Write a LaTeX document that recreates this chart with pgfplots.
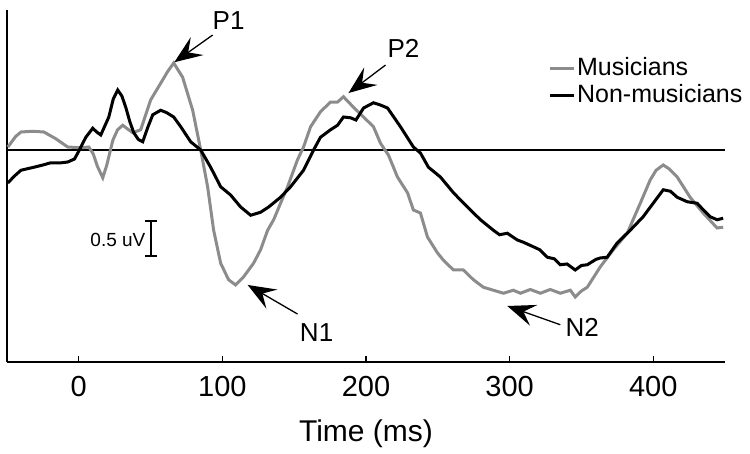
\documentclass[border=0pt]{standalone}
\usepackage{pgfplots}
\pgfplotsset{compat=1.18}
\usepackage{fontspec}
\setmainfont{Liberation Sans}
\usetikzlibrary{arrows.meta}
\definecolor{mgray}{RGB}{140,140,140}
\tikzset{ann/.style={line width=1.3bp, arrows={-Stealth[length=28bp,width=22bp,inset=11bp]}}}
\begin{document}
\begin{tikzpicture}
\begin{axis}[
  scale only axis,
  width=718bp, height=352bp,
  xmin=-50, xmax=450, ymin=-2.827, ymax=1.867,
  axis lines=left,
  axis line style={-, line width=1.5bp},
  xtick={0,100,200,300,400},
  ytick=\empty,
  tick align=inside,
  major tick length=6bp,
  tick style={line width=1.2bp, black},
  /pgf/number format/assume math mode=true,
  xticklabel style={font=\fontsize{29bp}{34bp}\selectfont, yshift=-11bp},
  xlabel={Time (ms)},
  xlabel style={font=\fontsize{30bp}{36bp}\selectfont, yshift=-16bp},
  clip=false,
  legend cell align=left,
  legend style={at={(axis cs:327,1.26)}, anchor=north west, draw=none, fill=none,
    font=\fontsize{25bp}{30bp}\selectfont, inner sep=0pt, row sep=1bp,
    nodes={inner sep=1.5bp, text height=18bp, text depth=5bp}},
  legend image code/.code={\draw[#1] (0bp,0bp) -- (24bp,0bp);},
]
% zero line
\addplot[black, line width=2.4bp, forget plot] coordinates {(-50,0) (450,0)};
\addplot[mgray, line width=3bp] coordinates {
(-49.4,0.04) (-44,0.18) (-40.3,0.24) (-32,0.25) (-24.3,0.24) (-16,0.15) (-7.7,0.04) (1.4,0.03) (7,0.04) (10,-0.05) (13,-0.22) (16.7,-0.37) (19.5,-0.2) (23.7,0.13) (27,0.27) (30.6,0.33) (34,0.28) (37.6,0.23) (43.1,0.27) (50.1,0.67) (57,0.89) (62,1.05) (66.1,1.16) (72.3,0.97) (79.3,0.53) (84.9,0) (89.7,-0.49) (93.9,-1.07) (98.8,-1.51) (104.3,-1.73) (109.2,-1.8) (114.8,-1.69) (121.7,-1.51) (126.6,-1.33) (131.5,-1.07) (135.7,-0.93) (140.5,-0.71) (145.4,-0.49) (152.3,-0.13) (156.5,0.04) (161.4,0.31) (168.3,0.51) (175.3,0.64) (180.2,0.64) (184.3,0.71) (191.3,0.57) (198.3,0.44) (205.2,0.31) (210.1,0.09) (215.7,-0.07) (221.9,-0.36) (228.9,-0.57) (233,-0.8) (237.9,-0.84) (242.8,-1.16) (249.7,-1.37) (253.9,-1.47) (260.9,-1.6) (267.8,-1.6) (274.8,-1.73) (281.7,-1.83) (288.7,-1.87) (295.7,-1.91) (302.6,-1.87) (307.5,-1.91) (314.4,-1.86) (321.4,-1.91) (328.3,-1.86) (335.3,-1.91) (342.3,-1.87) (345.7,-1.96) (350,-1.88) (354.1,-1.83) (363.1,-1.56) (372.2,-1.33) (381.9,-1.11) (391,-0.71) (397.9,-0.4) (402,-0.27) (406.96,-0.2) (411,-0.25) (416.7,-0.36) (425.7,-0.63) (434.8,-0.84) (444.5,-1.04) (448.7,-1.03)
};
\addlegendentry{Musicians}
\addplot[black, line width=3bp] coordinates {
(-49.4,-0.44) (-45,-0.35) (-40.3,-0.27) (-31.3,-0.23) (-25,-0.2) (-19.5,-0.17) (-12,-0.17) (-7.7,-0.16) (-3,-0.12) (-0.7,-0.04) (4.9,0.17) (9.7,0.29) (12.5,0.24) (15.3,0.2) (20.9,0.44) (24,0.68) (27.1,0.8) (30,0.72) (32.7,0.57) (35.5,0.38) (38.3,0.23) (41.5,0.14) (44.5,0.11) (48,0.3) (51.5,0.47) (57,0.53) (61,0.5) (66.1,0.44) (71,0.31) (77.9,0.11) (84.9,0) (91.8,-0.23) (98.8,-0.49) (105.7,-0.6) (112.7,-0.76) (119.7,-0.87) (126.6,-0.83) (132.2,-0.76) (140.5,-0.63) (147.5,-0.49) (156.5,-0.27) (163.5,0) (168.3,0.17) (175.3,0.27) (180.2,0.33) (184.3,0.44) (189.2,0.43) (193,0.4) (198.3,0.56) (205.2,0.63) (210,0.6) (215,0.56) (224,0.31) (233,0.04) (237.9,-0.04) (243.5,-0.23) (251.8,-0.36) (260.9,-0.57) (270.6,-0.76) (279.7,-0.93) (288.7,-1.07) (293,-1.13) (298.4,-1.11) (305.4,-1.2) (309.6,-1.23) (316.5,-1.29) (321,-1.33) (326.3,-1.43) (331,-1.45) (335.3,-1.53) (340,-1.52) (345.7,-1.6) (350,-1.54) (354.1,-1.53) (360,-1.46) (363.1,-1.44) (367.9,-1.43) (374.9,-1.24) (384,-1.07) (393,-0.89) (400,-0.71) (407,-0.53) (412,-0.55) (416.7,-0.63) (423.7,-0.69) (430.6,-0.71) (435,-0.8) (439.7,-0.89) (444.5,-0.93) (448.7,-0.91)
};
\addlegendentry{Non-musicians}
% scale bar
\addplot[black, line width=2.2bp, {|-|}, forget plot] coordinates {(50.1,-0.933) (50.1,-1.433)};
\node[anchor=east, font=\fontsize{19bp}{22bp}\selectfont, inner sep=0pt] at (axis cs:46.5,-1.2) {0.5 uV};
% annotations
\draw[ann] (axis cs:93.2,1.533) -- (axis cs:66.5,1.17);
\node[font=\fontsize{26bp}{30bp}\selectfont, inner sep=0pt] at (axis cs:104.3,1.73) {P1};
\draw[ann] (axis cs:213.6,1.133) -- (axis cs:187.8,0.76);
\node[font=\fontsize{26bp}{30bp}\selectfont, inner sep=0pt] at (axis cs:226.1,1.36) {P2};
\draw[ann] (axis cs:152.3,-2.187) -- (axis cs:117.6,-1.8);
\node[font=\fontsize{26bp}{30bp}\selectfont, inner sep=0pt] at (axis cs:165.6,-2.44) {N1};
\draw[ann] (axis cs:335.3,-2.33) -- (axis cs:298.4,-2.08);
\node[font=\fontsize{26bp}{30bp}\selectfont, inner sep=0pt] at (axis cs:350.6,-2.36) {N2};
\end{axis}
\path (current axis.south west) ++(-7bp,-92bp) coordinate (bbA);
\path (current axis.north east) ++(25bp,10bp) coordinate (bbB);
\useasboundingbox (bbA) rectangle (bbB);
\end{tikzpicture}
\end{document}
